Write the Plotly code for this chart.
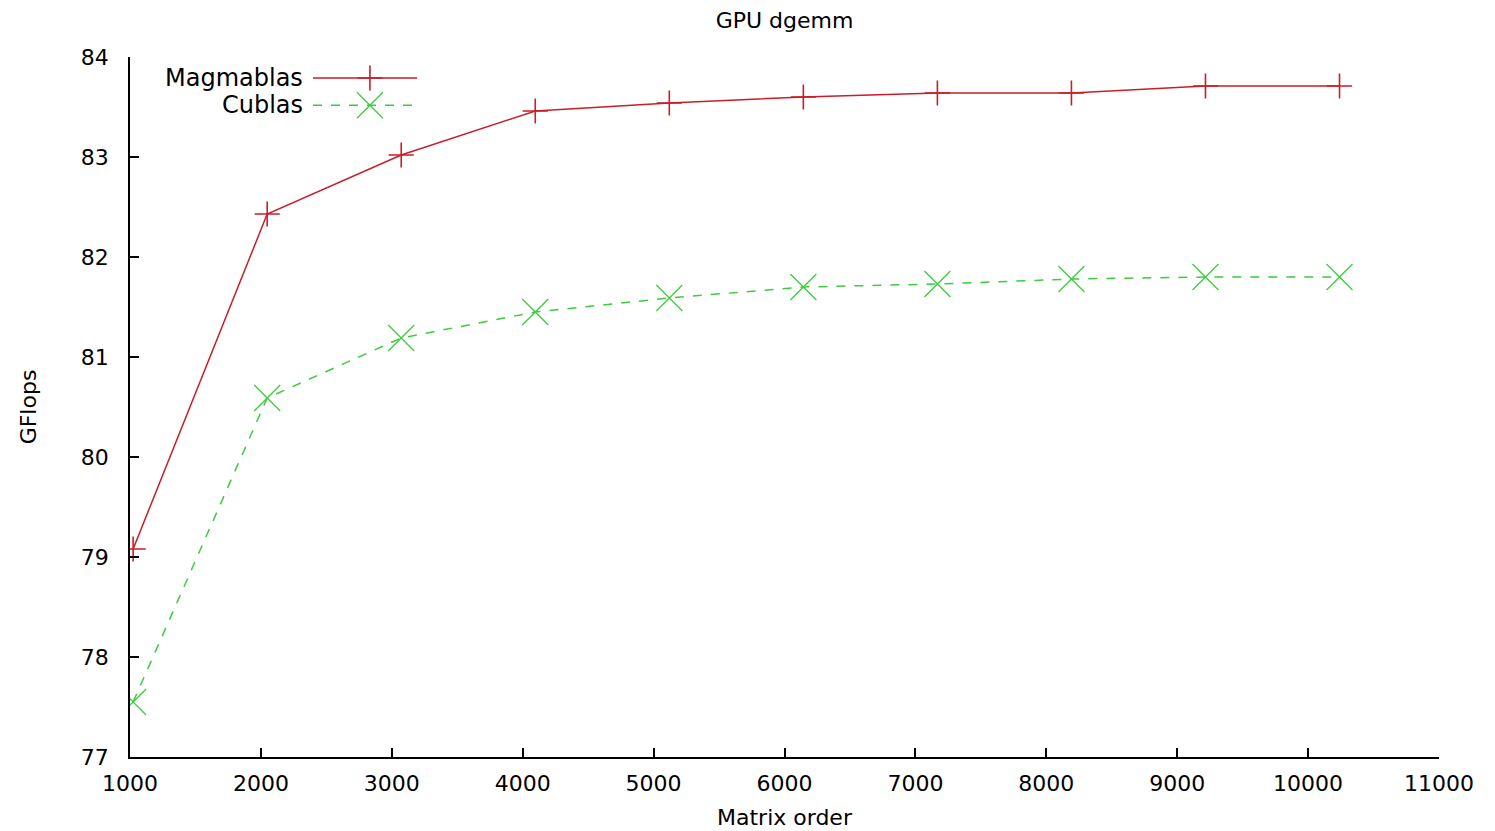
import plotly.graph_objects as go

# ---- data ----
matrix_order = [1024, 2048, 3072, 4096, 5120, 6144, 7168, 8192, 9216, 10240]
magmablas = [79.08, 82.43, 83.02, 83.46, 83.54, 83.60, 83.64, 83.64, 83.71, 83.71]
cublas = [77.55, 80.59, 81.19, 81.45, 81.59, 81.70, 81.73, 81.78, 81.80, 81.80]
series_names = ["Magmablas", "Cublas"]
x_ticks = [1000, 2000, 3000, 4000, 5000, 6000, 7000, 8000, 9000, 10000, 11000]
y_ticks = [77, 78, 79, 80, 81, 82, 83, 84]

RED = "#c81e28"
GREEN = "#3ccc3c"
FONT = "DejaVu Sans"
FS = 22

fig = go.Figure()
fig.add_trace(go.Scatter(
    x=matrix_order, y=magmablas, mode="lines+markers", name=series_names[0],
    line=dict(color=RED, width=1.5),
    marker=dict(symbol="cross-thin", size=18, line=dict(color=RED, width=1.6)),
    showlegend=False,
))
fig.add_trace(go.Scatter(
    x=matrix_order, y=cublas, mode="lines+markers", name=series_names[1],
    line=dict(color=GREEN, width=1.5, dash="dash"),
    marker=dict(symbol="x-thin", size=26, line=dict(color=GREEN, width=1.3)),
    showlegend=False,
))

# ---- gnuplot-style key (text left, sample right) ----
key_rows = [(0.970, RED, "solid", "cross-thin", 18, 1.6),
            (0.931, GREEN, "dash", "x-thin", 26, 1.3)]
for name, (ky, col, dash, sym, sz, lw) in zip(series_names, key_rows):
    fig.add_shape(type="line", xref="paper", yref="paper",
                  x0=0.1398, x1=0.2193, y0=ky, y1=ky,
                  line=dict(color=col, width=1.5, dash=dash))
    fig.add_annotation(xref="paper", yref="paper", x=0.1337, y=ky,
                       xanchor="right", yanchor="middle", text=name,
                       showarrow=False, font=dict(family=FONT, size=24, color="black"))
    fig.add_trace(go.Scatter(
        x=[0.1833], y=[ky], xaxis="x2", yaxis="y2", mode="markers",
        marker=dict(symbol=sym, size=sz, line=dict(color=col, width=lw)),
        showlegend=False, hoverinfo="skip",
    ))

W, H = 1495, 831
L, R, T, B = 130, 56, 57, 74

fig.update_layout(
    width=W, height=H,
    margin=dict(l=L, r=R, t=T, b=B, pad=0, autoexpand=False),
    paper_bgcolor="white", plot_bgcolor="white",
    font=dict(family=FONT, size=FS, color="black"),
    title=dict(text="GPU dgemm", x=(L + (W - R)) / 2 / W, xanchor="center",
               y=1 - 20 / H, yanchor="middle", yref="container",
               font=dict(family=FONT, size=FS, color="black")),
    xaxis=dict(
        range=[1000, 11000], tickvals=x_ticks, ticktext=[str(v) for v in x_ticks],
        ticks="inside", ticklen=9, tickwidth=1.5, tickcolor="black",
        showline=True, linecolor="black", linewidth=1.5, mirror=False,
        showgrid=False, zeroline=False, ticklabelstandoff=6, automargin=False,
        title=dict(text="Matrix order", standoff=14,
                   font=dict(family=FONT, size=FS, color="black")),
    ),
    yaxis=dict(
        range=[77, 84], tickvals=y_ticks, ticktext=[str(v) for v in y_ticks],
        ticks="inside", ticklen=9, tickwidth=1.5, tickcolor="black",
        showline=True, linecolor="black", linewidth=1.5, mirror=False,
        showgrid=False, zeroline=False, ticklabelstandoff=15, automargin=False,
        title=dict(text="GFlops", standoff=38,
                   font=dict(family=FONT, size=FS, color="black")),
    ),
    xaxis2=dict(range=[0, 1], overlaying="x", visible=False, fixedrange=True),
    yaxis2=dict(range=[0, 1], overlaying="y", visible=False, fixedrange=True),
    showlegend=False,
)

fig.write_html("out.html")
